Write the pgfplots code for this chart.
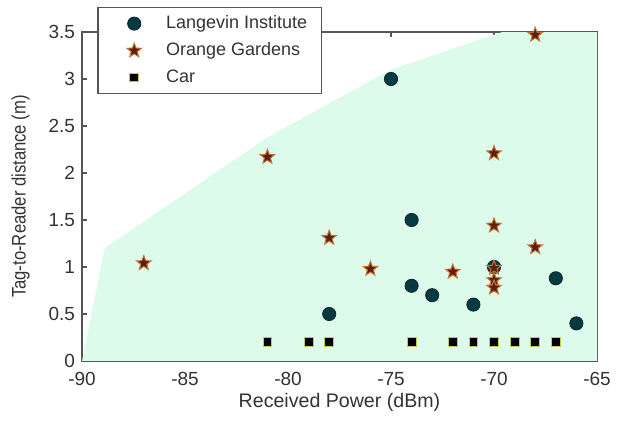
\documentclass[border=0pt]{standalone}
\usepackage{pgfplots}
\pgfplotsset{compat=1.18}
\usepackage{fontspec}
\setmainfont{Liberation Sans}
\newfontfamily\ylabfont[FakeStretch=0.85]{Liberation Sans}
\definecolor{mint}{HTML}{DDFBEA}
\definecolor{axgray}{HTML}{555555}
\definecolor{txtgray}{HTML}{333333}
\definecolor{teal}{HTML}{063A40}
\definecolor{starface}{HTML}{5E1E0E}
\definecolor{staredge}{HTML}{C87436}
\definecolor{sqedge}{HTML}{C8C850}
\pgfdeclareplotmark{pentagram}{%
  \pgfpathmoveto{\pgfpointpolar{90}{\pgfplotmarksize}}%
  \pgfpathlineto{\pgfpointpolar{126}{0.42\pgfplotmarksize}}%
  \pgfpathlineto{\pgfpointpolar{162}{\pgfplotmarksize}}%
  \pgfpathlineto{\pgfpointpolar{198}{0.42\pgfplotmarksize}}%
  \pgfpathlineto{\pgfpointpolar{234}{\pgfplotmarksize}}%
  \pgfpathlineto{\pgfpointpolar{270}{0.42\pgfplotmarksize}}%
  \pgfpathlineto{\pgfpointpolar{306}{\pgfplotmarksize}}%
  \pgfpathlineto{\pgfpointpolar{342}{0.42\pgfplotmarksize}}%
  \pgfpathlineto{\pgfpointpolar{18}{\pgfplotmarksize}}%
  \pgfpathlineto{\pgfpointpolar{54}{0.42\pgfplotmarksize}}%
  \pgfpathclose
  \pgfusepathqfillstroke}
\pgfplotsset{mylegimg/.style={legend image code/.code={\path[draw=none,fill=none] (0cm,0cm) -- (0.95cm,0cm); \draw[##1] plot[only marks] coordinates {(0.46cm,0cm)};}}}
\begin{document}
\begin{tikzpicture}
\begin{axis}[
  name=ax,
  scale only axis,
  width=257.5pt, height=164.5pt,
  xmin=-90, xmax=-65, ymin=0, ymax=3.5,
  xtick={-90,-85,...,-65},
  ytick={0,0.5,...,3.5},
  tick align=inside, tick pos=both,
  major tick length=2.5pt,
  axis line style={axgray, line width=0.6pt},
  every tick/.style={axgray, line width=0.6pt},
  tick label style={font=\fontsize{9.5}{11}\selectfont, color=txtgray},
  xticklabel style={yshift=-2pt},
  /pgf/number format/assume math mode=true,
  yticklabel style={/pgf/number format/fixed},
  label style={font=\fontsize{9.8}{12}\selectfont, color=txtgray},
  xlabel={Received Power (dBm)},
  ylabel={\ylabfont Tag-to-Reader distance (m)},
  xlabel style={yshift=3pt},
  ylabel style={yshift=2.5pt},
  legend style={at={(0.03,1.076)}, anchor=north west, draw=axgray, line width=0.6pt,
    font=\fontsize{9}{10}\selectfont, text=txtgray, row sep=1.5pt, inner ysep=2pt, inner xsep=5pt,
    cells={anchor=west}},
  legend cell align=left,
]
\addplot[fill=mint, draw=none, forget plot] coordinates {
  (-90,0) (-88.9,1.2) (-81,2.38) (-75,3.1) (-70,3.47) (-69.6,3.5) (-65,3.5) (-65,0) (-90,0)} \closedcycle;
\addplot[only marks, mylegimg, mark=*, mark size=3.3pt, mark options={fill=teal, draw=teal!70!black, line width=0.4pt}] coordinates {
  (-78,0.5) (-75,3.0) (-74,1.5) (-74,0.8) (-73,0.7) (-71,0.6) (-70,1.0) (-67,0.88) (-66,0.4)};
\addlegendentry{Langevin Institute}
\addplot[only marks, mylegimg, mark=pentagram, mark size=3.8pt, mark options={fill=starface, draw=staredge, line width=0.5pt}] coordinates {
  (-87,1.04) (-81,2.17) (-78,1.31) (-76,0.98) (-72,0.95) (-70,2.21) (-70,1.44) (-70,0.99) (-70,0.86) (-70,0.78) (-68,1.21) (-68,3.47)};
\addlegendentry{Orange Gardens}
\addplot[only marks, mylegimg, mark=square*, mark size=2.2pt, mark options={fill=black, draw=sqedge, line width=0.5pt}] coordinates {
  (-81,0.2) (-79,0.2) (-78,0.2) (-74,0.2) (-72,0.2) (-71,0.2) (-70,0.2) (-69,0.2) (-68,0.2) (-67,0.2)};
\addlegendentry{Car}
\end{axis}
\path ([xshift=-41pt,yshift=-33pt]ax.south west) rectangle ([xshift=15pt,yshift=16pt]ax.north east);
\end{tikzpicture}
\end{document}
